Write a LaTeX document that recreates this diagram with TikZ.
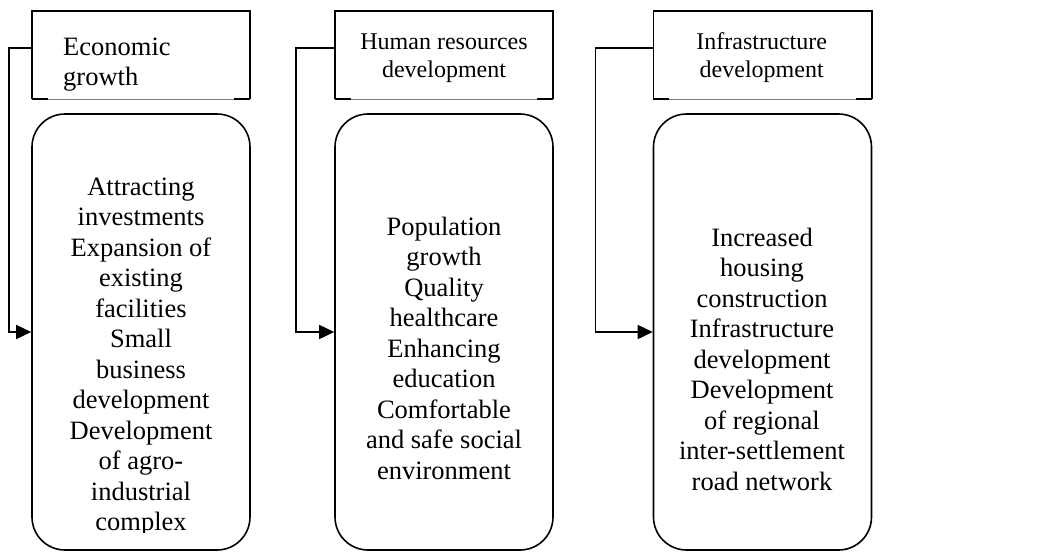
\documentclass[tikz,border=0pt]{standalone}
\usepackage{fontspec}
\setmainfont{Liberation Serif}
\usetikzlibrary{arrows.meta}
\tikzset{
  edge/.style={line width=1.6pt, black},
  headbox/.style={rectangle, minimum width=218pt, minimum height=88pt, inner sep=0pt, draw=none},
  listbox/.style={rectangle, rounded corners=33pt, minimum width=218pt, minimum height=436pt, inner sep=0pt, draw, line width=1.6pt},
  headtext/.style={font=\fontsize{24}{28}\selectfont, inner sep=0pt, anchor=north, align=center},
  bodytext/.style={font=\fontsize{26.5}{30.5}\selectfont, inner sep=0pt, anchor=north, align=center},
  conn/.style={line width=1.6pt, -{Triangle[length=15pt,width=14pt]}},
}
\begin{document}
\begin{tikzpicture}[x=1pt,y=-1pt]
\useasboundingbox (0,0) rectangle (1051,552);
% title boxes
\node[headbox] (t1) at (141,55) {};
\node[headbox] (t2) at (444,55) {};
\node[headbox] (t3) at (762.5,55) {};
\foreach \t in {t1,t2,t3}{
  \draw[edge] (\t.south west) -- (\t.north west) -- (\t.north east) -- (\t.south east);
  \draw[line width=0.7pt, gray] (\t.south west) -- (\t.south east);
  \draw[edge] (\t.south west) -- ++(16,0);
  \draw[edge] (\t.south east) -- ++(-16,0);
}
\node[font=\fontsize{26.5}{30.5}\selectfont, inner sep=0pt, anchor=north west, align=left] (h1) at (63,33.65) {\strut Economic\\growth};
\node[headtext] (h2) at (444,29.4) {\strut Human resources\\development};
\node[headtext] (h3) at (761.7,29.4) {\strut Infrastructure\\development};
% list boxes
\node[listbox] (b1) at (141,332) {};
\node[listbox] (b2) at (444,332) {};
\node[listbox] (b3) at (762.5,332) {};
\begin{scope}
\clip (0,0) rectangle (1051,532);
\node[bodytext] (l1) at (141,173.65) {\strut Attracting\\investments\\Expansion of\\existing\\facilities\\Small\\business\\development\\Development\\of agro-\\industrial\\complex};
\end{scope}
\node[bodytext] (l2) at (444,213.65) {\strut Population\\growth\\Quality\\healthcare\\Enhancing\\education\\Comfortable\\and safe social\\environment};
\node[bodytext] (l3) at (762,224.65) {\strut Increased\\housing\\construction\\Infrastructure\\development\\Development\\of regional\\inter-settlement\\road network};
% connectors
\draw[conn] ([yshift=-37pt]t1.north west) -- ++(-23,0) |- (b1.west);
\draw[conn] ([yshift=-37pt]t2.north west) -- ++(-39,0) |- (b2.west);
\draw[conn] ([yshift=-37pt]t3.north west) -- ++(-58,0) |- (b3.west);
\end{tikzpicture}
\end{document}
